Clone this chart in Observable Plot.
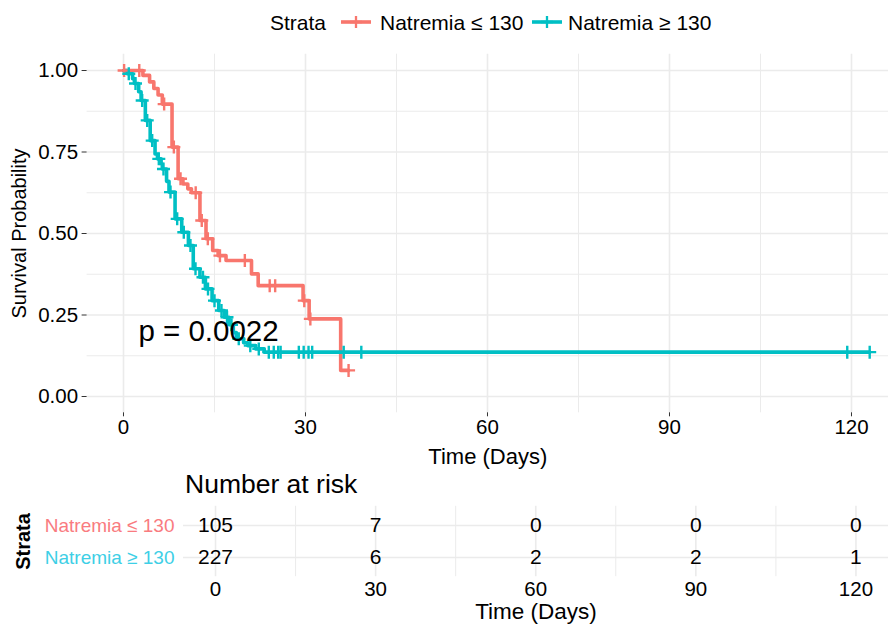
<!DOCTYPE html>
<html><head><meta charset="utf-8">
<script src="https://cdn.jsdelivr.net/npm/d3@7"></script>
<script src="https://cdn.jsdelivr.net/npm/@observablehq/plot@0.6"></script>
<style>
body{margin:0;background:#fff;font-family:"Liberation Sans",Arial,Helvetica,sans-serif;}
#wrap{position:relative;width:888px;height:624px;overflow:hidden;background:#fff;}
.abs{position:absolute;white-space:nowrap;line-height:1;color:#000;}
#main,#table{position:absolute;left:0;}
#main{top:0;} #table{top:470px;}
</style></head><body><div id="wrap"><div id="main"></div><div id="table"></div></div>
<script>
// ---------- data ----------
const groups = ["Natremia ≤ 130", "Natremia ≥ 130"];
const lineColors = ["#F8766D", "#00BFC4"];
const tableColors = ["#F97B80", "#3ECFE6"];

const lowTimes = [0, 3.2, 4.3, 5.0, 5.7, 6.4, 8.0, 9.0, 9.8, 10.6, 11.2, 12.6, 13.6, 14.7, 15.6, 16.9, 21.1, 22.2, 29.6, 30.6, 35.8, 37.1];
const lowSurv  = [1, 0.985, 0.965, 0.945, 0.925, 0.897, 0.765, 0.668, 0.652, 0.637, 0.625, 0.54, 0.484, 0.448, 0.432, 0.417, 0.376, 0.34, 0.294, 0.238, 0.08, 0.08];
const lowCensor = [0.1, 2.6, 6.7, 8.3, 9.4, 11.9, 12.9, 13.9, 15.9, 20.0, 24.1, 25.0, 29.8, 30.8, 37.1];

const highTimes = [0, 0.6, 1.5, 1.8, 2.5, 2.9, 3.6, 4.4, 5.2, 5.6, 6.2, 6.4, 7.1, 7.5, 8.5, 9.6, 10.7, 11.5, 12.6, 13.5, 14.6, 15.7, 16.6, 17.4, 18.1, 18.6, 19.8, 20.5, 21.8, 23.2, 123];
const highSurv  = [1, 0.99, 0.975, 0.96, 0.935, 0.908, 0.847, 0.785, 0.744, 0.729, 0.713, 0.698, 0.66, 0.627, 0.545, 0.504, 0.463, 0.392, 0.366, 0.33, 0.294, 0.264, 0.243, 0.22, 0.196, 0.177, 0.165, 0.156, 0.146, 0.136, 0.136];
const highCensor = [0.87, 1.98, 3.08, 3.91, 4.73, 5.82, 6.59, 7.75, 8.85, 9.94, 11.04, 11.87, 13.1, 13.93, 15.0, 16.15, 17.06, 17.8, 19.0, 20.9, 22.3, 23.95, 24.77, 25.5, 25.9, 28.9, 29.7, 30.5, 31.1, 36.3, 39.2, 119.3, 123.0];

const riskTimes = [0, 30, 60, 90, 120];
const riskLow  = [105, 7, 0, 0, 0];
const riskHigh = [227, 6, 2, 2, 1];

const xTicks = [0, 30, 60, 90, 120];
const xMinor = [15, 45, 75, 105];
const yTicks = [0, 0.25, 0.5, 0.75, 1];
const yMinor = [0.125, 0.375, 0.625, 0.875];
const pLabel = "p = 0.0022";
const pPos = [2.46, 0.2];

// ---------- derived tables ----------
const series = [
  {g: groups[0], t: lowTimes, s: lowSurv, c: lowCensor},
  {g: groups[1], t: highTimes, s: highSurv, c: highCensor}
];
const curves = series.flatMap(d => d.t.map((t, i) => ({group: d.g, time: t, surv: d.s[i]})));
const censors = series.flatMap(d => d.c.map(t => {
  const i = d3.bisectRight(d.t, t) - 1;
  return {group: d.g, time: t, surv: d.s[Math.max(0, i)]};
}));
const risk = riskTimes.flatMap((t, i) => [
  {group: groups[0], time: t, n: riskLow[i]},
  {group: groups[1], time: t, n: riskHigh[i]}
]);

const plus = {draw(ctx, size) {
  const h = Math.sqrt(size / Math.PI);
  ctx.moveTo(-h, 0); ctx.lineTo(h, 0);
  ctx.moveTo(0, -h); ctx.lineTo(0, h);
}};

const font = '"Liberation Sans", Arial, Helvetica, sans-serif';
const grid = "#ebebeb";
const xDomain = [-6, 126.1];

// ---------- main plot ----------
const main = Plot.plot({
  width: 888, height: 470,
  marginTop: 53.7, marginBottom: 57.7, marginLeft: 86.6, marginRight: 0,
  style: {fontFamily: font, fontSize: "20px", color: "#000", background: "#fff", overflow: "visible"},
  x: {domain: xDomain},
  y: {domain: [-0.05, 1.05]},
  color: {domain: groups, range: lineColors},
  marks: [
    Plot.ruleX(xMinor, {stroke: grid, strokeWidth: 1}),
    Plot.ruleY(yMinor, {stroke: grid, strokeWidth: 1}),
    Plot.ruleX(xTicks, {stroke: grid, strokeWidth: 1.6}),
    Plot.ruleY(yTicks, {stroke: grid, strokeWidth: 1.6}),
    Plot.line(curves, {x: "time", y: "surv", z: "group", stroke: "group", curve: "step-after", strokeWidth: 3.6}),
    Plot.dot(censors, {x: "time", y: "surv", stroke: "group", symbol: plus, r: 6.5, fill: "none", strokeWidth: 2.4}),
    Plot.text([pLabel], {x: pPos[0], y: pPos[1], text: d => d, textAnchor: "start", fontSize: 29.5, fill: "#000"}),
    Plot.axisX({ticks: xTicks, tickSize: 4, tickPadding: 3, fontSize: 20.5, stroke: "#333",
      label: "Time (Days)", labelAnchor: "center", labelOffset: 51, labelArrow: "none"}),
    Plot.axisY({ticks: yTicks, tickFormat: ".2f", tickSize: 5, tickPadding: 4, fontSize: 20.5, stroke: "#333",
      label: "Survival Probability", labelAnchor: "center", labelOffset: 75, labelArrow: "none"})
  ]
});
document.getElementById("main").appendChild(main);
d3.select(main).selectAll('[aria-label="x-axis label"] text').attr("font-size", 22);
d3.select(main).selectAll('[aria-label="y-axis label"] text').attr("font-size", 20);

// ---------- risk table ----------
const table = Plot.plot({
  width: 888, height: 154,
  marginTop: 35.8, marginBottom: 47.8, marginLeft: 183, marginRight: 0,
  style: {fontFamily: font, fontSize: "19px", color: "#000", background: "#fff", overflow: "visible"},
  x: {domain: xDomain},
  y: {type: "point", domain: groups, padding: 0.6},
  marks: [
    Plot.ruleX(xMinor, {stroke: grid, strokeWidth: 1}),
    Plot.ruleX(xTicks, {stroke: grid, strokeWidth: 1.6}),
    Plot.ruleY(groups, {y: d => d, stroke: grid, strokeWidth: 1.6}),
    Plot.text(risk, {x: "time", y: "group", text: "n", fontSize: 21, fill: "#000"}),
    Plot.axisX({ticks: xTicks, tickSize: 0, tickPadding: 5, fontSize: 20.5,
      label: "Time (Days)", labelAnchor: "center", labelOffset: 42, labelArrow: "none"}),
    Plot.axisY({tickSize: 0, tickPadding: 9, fontSize: 19,
      label: "Strata", labelAnchor: "center", labelOffset: 168, labelArrow: "none"})
  ]
});
document.getElementById("table").appendChild(table);
d3.select(table).selectAll('[aria-label="y-axis tick label"] text').attr("fill", (d, i) => tableColors[i]);
d3.select(table).selectAll('[aria-label="y-axis label"] text').attr("font-size", 20).attr("font-weight", "bold");
d3.select(table).selectAll('[aria-label="x-axis label"] text').attr("font-size", 22.5);

// ---------- legend & table title (HTML) ----------
const wrap = document.getElementById("wrap");
function addText(txt, left, top, size, color) {
  const d = document.createElement("div");
  d.className = "abs"; d.textContent = txt;
  d.style.left = left + "px"; d.style.top = top + "px";
  d.style.fontSize = size + "px"; d.style.color = color || "#000";
  wrap.appendChild(d);
}
function addGlyph(left, centerY, color) {
  const ns = "http://www.w3.org/2000/svg";
  const s = document.createElementNS(ns, "svg");
  s.setAttribute("width", 30); s.setAttribute("height", 20);
  s.style.position = "absolute"; s.style.left = left + "px"; s.style.top = (centerY - 10) + "px";
  s.innerHTML = `<line x1="0" x2="30" y1="10" y2="10" stroke="${color}" stroke-width="3.6"/>` +
    `<path d="M9,10H21M15,4V16" stroke="${color}" stroke-width="2.3" fill="none"/>`;
  wrap.appendChild(s);
}
addText("Strata", 270, 12, 21);
addGlyph(341, 22, lineColors[0]);
addText(groups[0], 380, 12, 21);
addGlyph(532, 22, lineColors[1]);
addText(groups[1], 568, 12, 21);
addText("Number at risk", 185, 471, 26.5);
</script></body></html>
